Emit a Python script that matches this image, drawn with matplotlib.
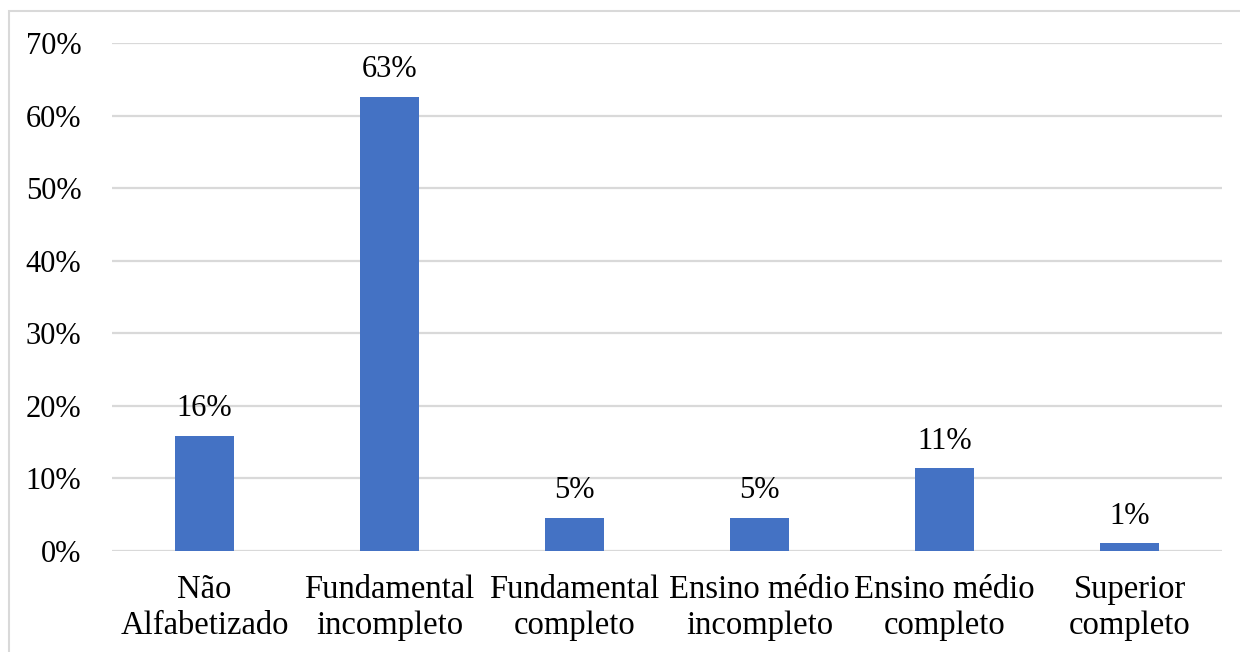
import numpy as np
import matplotlib.pyplot as plt
from matplotlib.patches import Rectangle

plt.rcParams['font.family'] = ['Liberation Serif', 'DejaVu Serif']

categories = ['Não\nAlfabetizado', 'Fundamental\nincompleto', 'Fundamental\ncompleto',
              'Ensino médio\nincompleto', 'Ensino médio\ncompleto', 'Superior\ncompleto']
percent = [15.9, 62.6, 4.6, 4.6, 11.4, 1.1]

fig = plt.figure(figsize=(12.4, 6.52), dpi=100)
ax = fig.add_axes([112/1240, 101/652, 1110/1240, 508/652])

x = np.arange(len(categories))
bars = ax.bar(x, percent, width=0.315, color='#4472C4', zorder=3)

for xi, v in zip(x, percent):
    ax.annotate('%.0f%%' % v, (xi, v), xytext=(0, 9), textcoords='offset points',
                ha='center', va='bottom', fontsize=22)

ax.set_xlim(-0.5, len(categories) - 0.5)
ax.set_ylim(0, 70)
ax.set_yticks(np.arange(0, 71, 10))
ax.set_yticklabels(['%d%%' % t for t in np.arange(0, 71, 10)])
ax.set_xticks(x)
ax.set_xticklabels(categories, linespacing=1.22)
ax.tick_params(axis='y', length=0, pad=22, labelsize=22)
ax.tick_params(axis='x', length=0, pad=17, labelsize=23.5)
ax.grid(axis='y', color='#d9d9d9', lw=1.6, zorder=0)
for s in ax.spines.values():
    s.set_visible(False)

# light frame around the chart
fig.patches.append(Rectangle((9/1240, -0.1), 1.2, (652-11)/652 + 0.1,
                             transform=fig.transFigure, fill=False,
                             edgecolor='#d9d9d9', lw=1.5))

fig.savefig('out.png', dpi=100)
